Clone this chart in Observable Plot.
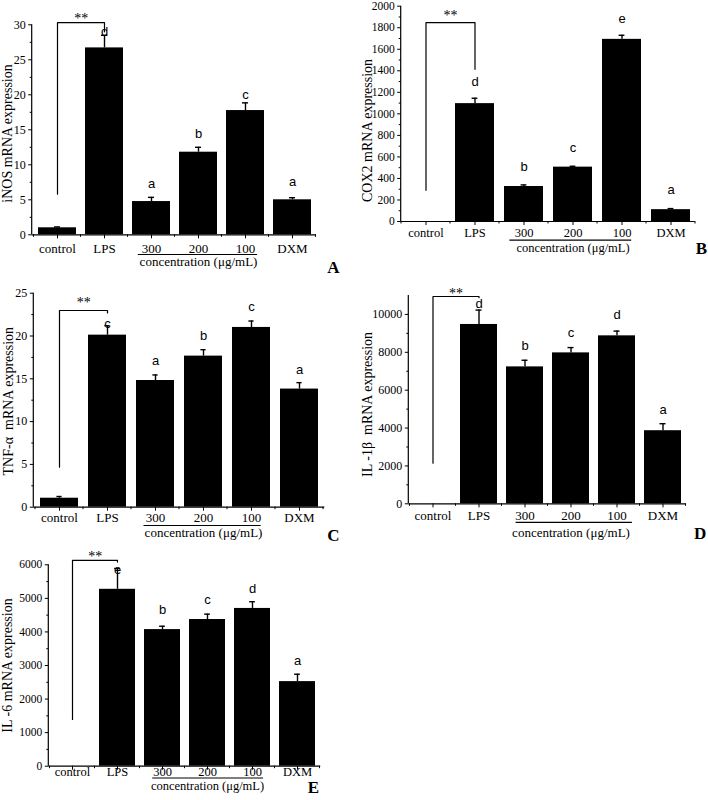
<!DOCTYPE html>
<html>
<head>
<meta charset="utf-8">
<script src="https://cdn.jsdelivr.net/npm/d3@7"></script>
<script src="https://cdn.jsdelivr.net/npm/@observablehq/plot@0.6"></script>
<style>
  body { margin: 0; background: #fff; }
  #fig { position: relative; width: 708px; height: 800px; overflow: hidden; background: #fff; }
  #fig svg { position: absolute; overflow: visible; max-width: none; }
</style>
</head>
<body>
<div id="fig"></div>
<script>
// ---------- data ----------
const categories = ["control", "LPS", "300", "200", "100", "DXM"];
const concentrationLabel = "concentration (μg/mL)";
const significance = "**";

// A: iNOS
const iNOSMean    = [1.0, 26.7, 4.75, 11.8, 17.75, 5.0];
const iNOSErr     = [0.12, 1.8, 0.6, 0.7, 1.1, 0.3];
const iNOSLetters = ["", "d", "a", "b", "c", "a"];
const iNOSLetterY = [null, 29.0, 7.3, 14.4, 20.0, 7.5];
const iNOSBracket = [5.8, 30.3, 29.0];
const iNOSDomain  = [0, 30];
const iNOSMajor   = [0, 5, 10, 15, 20, 25, 30];
const iNOSMinor   = [2.5, 7.5, 12.5, 17.5, 22.5, 27.5];

// B: COX2
const COX2Mean    = [0, 1095, 325, 505, 1692, 110];
const COX2Err     = [0, 50, 15, 8, 38, 10];
const COX2Letters = ["", "d", "b", "c", "e", "a"];
const COX2LetterY = [null, 1293, 512, 688, 1879, 298];
const COX2Bracket = [290, 1848, 1414];
const COX2Domain  = [0, 2000];
const COX2Major   = [0, 200, 400, 600, 800, 1000, 1200, 1400, 1600, 1800, 2000];
const COX2Minor   = [100, 300, 500, 700, 900, 1100, 1300, 1500, 1700, 1900];

// C: TNF-α
const TNFMean    = [1.05, 20.1, 14.8, 17.65, 21.0, 13.8];
const TNFErr     = [0.2, 1.1, 0.65, 0.75, 0.75, 0.75];
const TNFLetters = ["", "c", "a", "b", "c", "a"];
const TNFLetterY = [null, 21.4, 17.06, 19.98, 23.36, 16.08];
const TNFBracket = [4.67, 22.98, 22.7];
const TNFDomain  = [0, 25];
const TNFMajor   = [0, 5, 10, 15, 20, 25];
const TNFMinor   = [2.5, 7.5, 12.5, 17.5, 22.5];

// D: IL-1β
const IL1bMean    = [0, 9470, 7230, 7970, 8870, 3860];
const IL1bErr     = [0, 760, 350, 280, 250, 370];
const IL1bLetters = ["", "d", "b", "c", "d", "a"];
const IL1bLetterY = [null, 10580, 8320, 9050, 10000, 4970];
const IL1bBracket = [2144, 10947, 10880];
const IL1bDomain  = [0, 11000];
const IL1bMajor   = [0, 2000, 4000, 6000, 8000, 10000];
const IL1bMinor   = [1000, 3000, 5000, 7000, 9000];

// E: IL-6
const IL6Mean    = [0, 5270, 4070, 4370, 4700, 2520];
const IL6Err     = [0, 620, 100, 160, 200, 220];
const IL6Letters = ["", "e", "b", "c", "d", "a"];
const IL6LetterY = [null, 5860, 4670, 4970, 5290, 3130];
const IL6Bracket = [1392, 6131, 6080];
const IL6Domain  = [0, 6000];
const IL6Major   = [0, 1000, 2000, 3000, 4000, 5000, 6000];
const IL6Minor   = [500, 1500, 2500, 3500, 4500, 5500];

const yLabels = [
  "iNOS mRNA expression",
  "COX2 mRNA expression",
  "TNF-α\u00a0 mRNA expression",
  "IL -1β\u00a0 mRNA expression",
  "IL -6 mRNA expression"
];
const panelTags = ["A", "B", "C", "D", "E"];

// ---------- layout (styles only) ----------
const panels = [
  {mean: iNOSMean, err: iNOSErr, letters: iNOSLetters, letterY: iNOSLetterY, bracket: iNOSBracket, domain: iNOSDomain, major: iNOSMajor, minor: iNOSMinor,
   box: {left: 0, top: 0, width: 354, height: 275, ml: 31.7, mr: 38, mt: 24.3, mb: 40.7},
   xFont: 13, tickPad: 4.5, yFont: 12, labelX: 6.7, labelDy: 3.7, ulDy: 19.7, ulIn: [5.8, 6.9], concDy: 27, tagDx: 17, tagDy: 32.7, starDy: 0},
  {mean: COX2Mean, err: COX2Err, letters: COX2Letters, letterY: COX2LetterY, bracket: COX2Bracket, domain: COX2Domain, major: COX2Major, minor: COX2Minor,
   box: {left: 354, top: 0, width: 354, height: 275, ml: 46.7, mr: 13.3, mt: 5.7, mb: 54},
   xFont: 12.5, tickPad: 2.5, yFont: 11.5, labelX: 13, labelDy: 16.6, ulDy: 18.6, ulIn: [5.4, 9.8], concDy: 26.5, tagDx: 6.3, tagDy: 27, starDy: -3},
  {mean: TNFMean, err: TNFErr, letters: TNFLetters, letterY: TNFLetterY, bracket: TNFBracket, domain: TNFDomain, major: TNFMajor, minor: TNFMinor,
   box: {left: 0, top: 275, width: 354, height: 265, ml: 33.3, mr: 29.7, mt: 17.7, mb: 33.3},
   xFont: 13, tickPad: 1.5, yFont: 12, labelX: 8, labelDy: 1, ulDy: 18.3, ulIn: [7.5, 9.3], concDy: 25.5, tagDx: 8.7, tagDy: 28.3, starDy: -3},
  {mean: IL1bMean, err: IL1bErr, letters: IL1bLetters, letterY: IL1bLetterY, bracket: IL1bBracket, domain: IL1bDomain, major: IL1bMajor, minor: IL1bMinor,
   box: {left: 354, top: 275, width: 354, height: 265, ml: 54.3, mr: 22.3, mt: 20, mb: 36.7},
   xFont: 13, tickPad: 2.5, yFont: 12, labelX: 13, labelDy: 4.8, ulDy: 18.5, ulIn: [9.6, 3.1], concDy: 29, tagDx: 14, tagDy: 29.7, starDy: 1},
  {mean: IL6Mean, err: IL6Err, letters: IL6Letters, letterY: IL6LetterY, bracket: IL6Bracket, domain: IL6Domain, major: IL6Major, minor: IL6Minor,
   box: {left: 0, top: 540, width: 354, height: 260, ml: 48.3, mr: 33.8, mt: 24.3, mb: 34.3},
   xFont: 12.5, tickPad: -3.5, yFont: 11.5, labelX: 7, labelDy: 0, ulDy: 11.8, ulIn: [8.2, 7], concDy: 19.5, tagDx: -7.2, tagDy: 21.3, starDy: 1}
];

const fig = document.getElementById("fig");
const fmt = d3.format("d");

panels.forEach((p, k) => {
  const b = p.box;
  const n = categories.length;
  const step = (b.width - b.ml - b.mr) / n;
  const bw = step * 0.8;
  const capIn = (bw - 6) / 2;
  const data = categories.map((c, i) => ({cat: c, mean: p.mean[i], err: p.err[i], letter: p.letters[i], ly: p.letterY[i]}));
  const withErr = data.filter(d => d.err > 0);
  const bracketPts = [
    {cat: categories[0], v: p.bracket[0]},
    {cat: categories[0], v: p.bracket[1]},
    {cat: categories[1], v: p.bracket[1]},
    {cat: categories[1], v: p.bracket[2]}
  ];
  const plot = Plot.plot({
    width: b.width, height: b.height,
    marginLeft: b.ml, marginRight: b.mr, marginTop: b.mt, marginBottom: b.mb,
    style: {fontFamily: "Liberation Serif", fontSize: "12px", color: "#000", background: "transparent", overflow: "visible"},
    x: {type: "band", domain: categories, paddingInner: 0.2, paddingOuter: 0.1, axis: null},
    y: {domain: p.domain, axis: null},
    marks: [
      Plot.barY(data, {x: "cat", y: "mean", fill: "#000"}),
      Plot.ruleX(withErr, {x: "cat", y1: "mean", y2: d => d.mean + d.err, stroke: "#000", strokeWidth: 1.4}),
      Plot.tickY(withErr, {x: "cat", y: d => d.mean + d.err, insetLeft: capIn, insetRight: capIn, stroke: "#000", strokeWidth: 1.4}),
      Plot.ruleY([0], {stroke: "#000", strokeWidth: 1.2}),
      Plot.axisY({ticks: p.major, tickSize: 3.5, tickPadding: 3, fontSize: p.yFont, tickFormat: fmt, label: null}),
      Plot.axisY({ticks: p.minor, tickSize: 2, tickFormat: () => "", label: null}),
      Plot.axisX({tickSize: 4, tickPadding: p.tickPad, fontSize: p.xFont, label: null}),
      Plot.text(data.filter(d => d.letter), {x: "cat", y: "ly", text: "letter", fontFamily: "Liberation Sans", fontSize: 13, lineAnchor: "middle", fill: "#000"}),
      Plot.line(bracketPts, {x: "cat", y: "v", stroke: "#000", strokeWidth: 1.2}),
      Plot.text([significance], {x: () => categories[0], y: () => p.bracket[1], dx: step / 2, dy: p.starDy, lineAnchor: "bottom", fontSize: 14, fill: "#000"}),
      Plot.ruleY([{a: categories[2], b: categories[4], v: 0}], {x1: "a", x2: "b", y: "v", dy: p.ulDy, insetLeft: p.ulIn[0], insetRight: p.ulIn[1], stroke: "#000", strokeWidth: 1.2}),
      Plot.text([concentrationLabel], {x: () => categories[3], frameAnchor: "bottom", dy: p.concDy, fontSize: p.xFont, lineAnchor: "middle", fill: "#000"}),
      Plot.text([yLabels[k]], {frameAnchor: "left", rotate: -90, dx: p.labelX - b.ml, dy: p.labelDy, fontSize: 14, textAnchor: "middle", lineAnchor: "middle", fill: "#000"}),
      Plot.text([panelTags[k]], {frameAnchor: "bottom-right", dx: p.tagDx, dy: p.tagDy, fontSize: 17, fontWeight: "bold", textAnchor: "middle", lineAnchor: "middle", fill: "#000"})
    ]
  });
  plot.style.position = "absolute";
  plot.style.left = b.left + "px";
  plot.style.top = b.top + "px";
  fig.appendChild(plot);

  // axis line and band-boundary minor ticks from the plot's own scales
  const xs = plot.scale("x"), ys = plot.scale("y");
  const xStep = xs.step != null ? xs.step : (xs.range[1] - xs.range[0]) / n;
  const xBw = xs.bandwidth != null ? xs.bandwidth : xStep * 0.8;
  const g = d3.select(plot).append("g").attr("stroke", "#000").attr("fill", "none");
  g.append("line")
    .attr("x1", xs.range[0]).attr("x2", xs.range[0])
    .attr("y1", ys.apply(p.domain[0])).attr("y2", ys.apply(p.domain[1]))
    .attr("stroke-width", 1.2);
  const start0 = xs.apply(categories[0]) - (xStep - xBw) / 2;
  for (let i = 0; i <= n; i++) {
    const xx = start0 + i * xStep;
    g.append("line").attr("x1", xx).attr("x2", xx)
      .attr("y1", ys.apply(0)).attr("y2", ys.apply(0) + 2.5);
  }
});
</script>
</body>
</html>
